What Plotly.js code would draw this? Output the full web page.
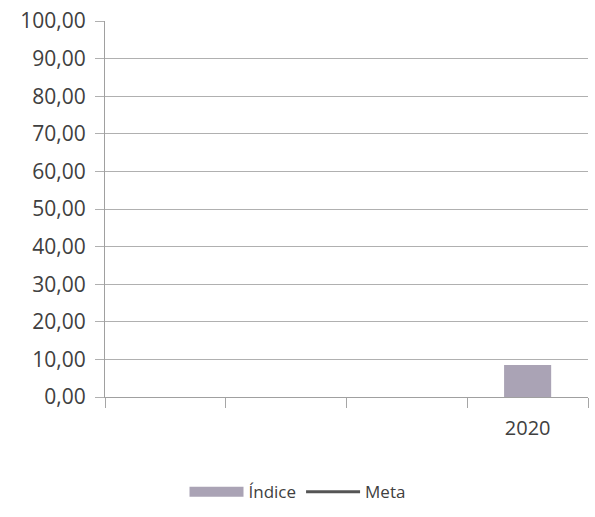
<!DOCTYPE html>
<html>
<head>
<meta charset="utf-8">
<script src="https://cdn.plot.ly/plotly-3.0.1.min.js"></script>
<style>html,body{margin:0;padding:0;background:#fff;}#chart{width:595px;height:517px;}</style>
</head>
<body>
<div id="chart"></div>
<script>
var categories = ["2017", "2018", "2019", "2020"];
var tickLabels = ["", "", "", "2020"];
var indiceValues = [null, null, null, 8.5];
var metaValues = [null, null, null, null];
var yTicks = [0, 10, 20, 30, 40, 50, 60, 70, 80, 90, 100];

var barColor = "#aaa3b5";
var FONT = "Open Sans, Lato, sans-serif";

var traces = [
  {
    type: "bar", x: categories, y: indiceValues, name: "Índice",
    marker: {color: barColor}, width: 0.39, showlegend: false, hoverinfo: "skip"
  },
  {
    type: "scatter", mode: "lines", x: categories, y: indiceValues.map(function(){return null;}),
    name: "Índice", line: {color: barColor, width: 10}, showlegend: true, hoverinfo: "skip"
  },
  {
    type: "scatter", mode: "lines", x: categories, y: metaValues, name: "Meta",
    line: {color: "#555555", width: 3}, showlegend: true, hoverinfo: "skip"
  }
];

var layout = {
  width: 595, height: 517,
  margin: {l: 105, r: 7, t: 21, b: 120},
  paper_bgcolor: "#ffffff", plot_bgcolor: "#ffffff",
  separators: ",.",
  font: {family: FONT, color: "#404040", size: 21},
  showlegend: true,
  legend: {
    orientation: "h", xref: "container", yref: "container",
    x: 0.5, xanchor: "center", y: 0.048, yanchor: "middle",
    font: {family: FONT, size: 17, color: "#404040"},
    itemwidth: 54, tracegroupgap: 0
  },
  xaxis: {
    type: "category", categoryorder: "array", categoryarray: categories,
    tickvals: categories, ticktext: tickLabels,
    range: [-0.5, 3.5], showgrid: false, zeroline: false,
    showline: true, linecolor: "#a0a0a0", linewidth: 1,
    ticks: "outside", tickson: "boundaries", ticklen: 10, tickcolor: "#a6a6a6",
    ticklabelstandoff: 13,
    tickfont: {family: FONT, size: 20, color: "#404040"}, fixedrange: true
  },
  yaxis: {
    range: [0, 100], tickvals: yTicks, tickformat: ".2f",
    showgrid: true, gridcolor: "#b0b0b0", gridwidth: 1,
    zeroline: false, showline: true, linecolor: "#a0a0a0", linewidth: 1,
    ticks: "outside", ticklen: 9, tickcolor: "#b0b0b0",
    ticklabelstandoff: 5,
    tickfont: {family: FONT, size: 21, color: "#404040"}, fixedrange: true
  }
};

Plotly.newPlot("chart", traces, layout, {displayModeBar: false, staticPlot: true});
</script>
</body>
</html>
